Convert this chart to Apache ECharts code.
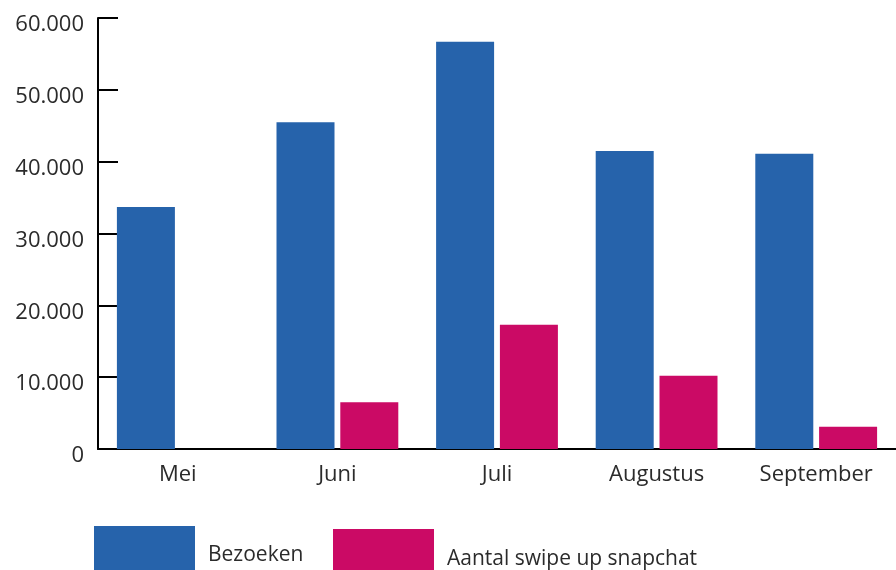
<!DOCTYPE html>
<html>
<head>
<meta charset="utf-8">
<script src="https://cdn.jsdelivr.net/npm/echarts@6/dist/echarts.min.js"></script>
<style>
  html, body { margin: 0; padding: 0; background: #fff; }
  #chart { width: 896px; height: 570px; }
</style>
</head>
<body>
<div id="chart"></div>
<script>
const months = ["Mei", "Juni", "Juli", "Augustus", "September"];
const bezoeken = [33700, 45500, 56700, 41500, 41100];
const swipeUps = [0, 6500, 17300, 10200, 3100];
const seriesNames = ["Bezoeken", "Aantal swipe up snapchat"];

const fontFamily = "'Open Sans', 'Noto Sans', sans-serif";
const textColor = "#2b2b2b";

const chart = echarts.init(document.getElementById("chart"));

// legend label nudged down a bit, like the original
function legendText(shift) {
  return {
    fontSize: 21,
    color: textColor,
    fontFamily: fontFamily,
    rich: { t: { fontSize: 21, color: textColor, fontFamily: fontFamily, padding: [shift, 0, 0, 8] } }
  };
}

chart.setOption({
  animation: false,
  textStyle: { fontFamily: fontFamily },
  grid: { left: 98, right: -2, top: 18, bottom: 121 },
  legend: [
    {
      data: [seriesNames[0]],
      left: 94,
      top: 526,
      padding: 0,
      icon: "rect",
      itemWidth: 101,
      itemHeight: 44,
      formatter: "{t|{name}}",
      textStyle: legendText(14)
    },
    {
      data: [seriesNames[1]],
      left: 333,
      top: 529,
      padding: 0,
      icon: "rect",
      itemWidth: 101,
      itemHeight: 41,
      formatter: "{t|{name}}",
      textStyle: legendText(20)
    }
  ],
  xAxis: {
    type: "category",
    data: months,
    axisLine: { lineStyle: { color: "#000", width: 2 } },
    axisTick: { inside: true, length: 10, interval: 0, lineStyle: { color: "#000", width: 2 } },
    axisLabel: { fontSize: 22, color: textColor, margin: 15 }
  },
  yAxis: {
    type: "value",
    min: 0,
    max: 60000,
    interval: 10000,
    axisLine: { show: true, lineStyle: { color: "#000", width: 2 } },
    axisTick: { show: true, inside: true, length: 20, lineStyle: { color: "#000", width: 2 } },
    splitLine: { show: false },
    axisLabel: {
      fontSize: 22,
      color: textColor,
      margin: 14,
      verticalAlign: "top",
      lineHeight: 14,
      formatter: (v) => v === 0 ? "0" : (v / 1000) + ".000"
    }
  },
  series: [
    {
      name: seriesNames[0],
      type: "bar",
      data: bezoeken,
      barWidth: 58,
      barGap: "10%",
      itemStyle: { color: "#2663ab" }
    },
    {
      name: seriesNames[1],
      type: "bar",
      data: swipeUps,
      barWidth: 58,
      itemStyle: { color: "#cb0a65" }
    }
  ]
});
</script>
</body>
</html>
